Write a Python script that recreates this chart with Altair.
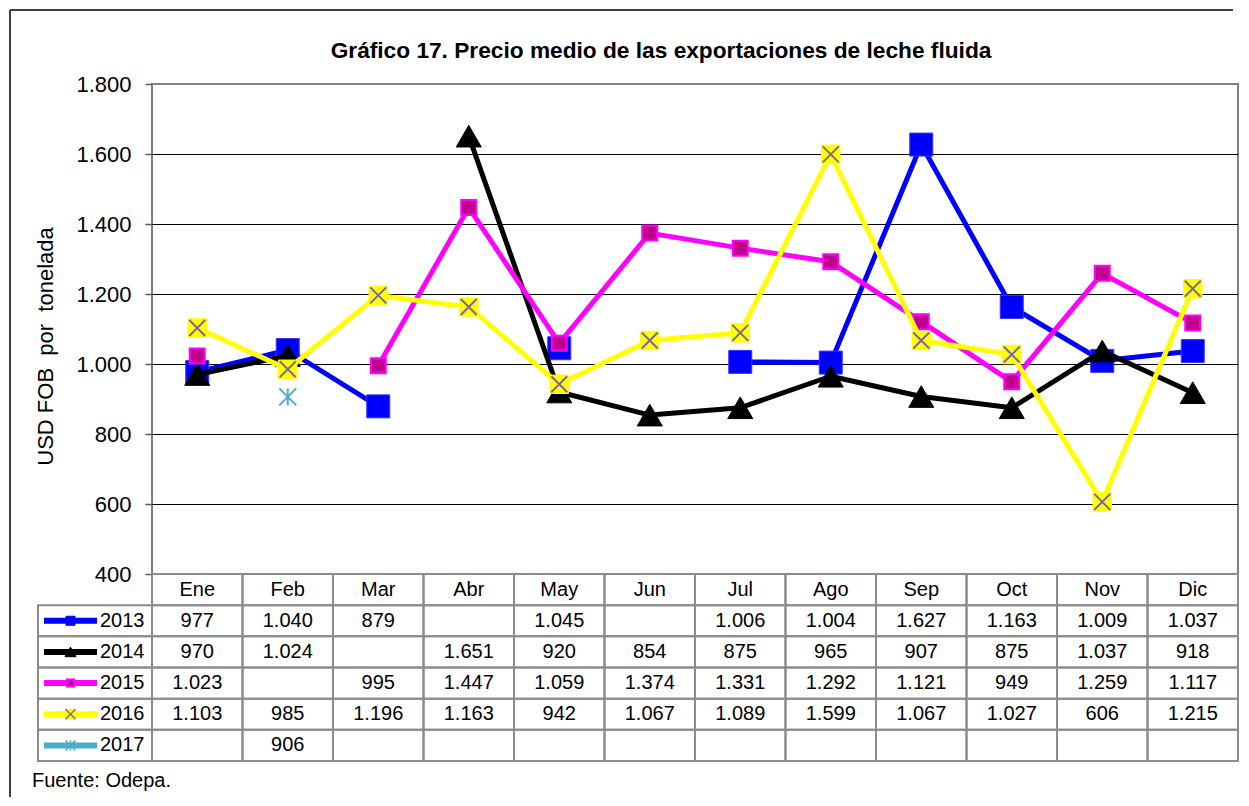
import altair as alt
import pandas as pd

# ---------------- data ----------------
months = ["Ene", "Feb", "Mar", "Abr", "May", "Jun", "Jul", "Ago", "Sep", "Oct", "Nov", "Dic"]
series = ["2013", "2014", "2015", "2016", "2017"]
v2013 = [977, 1040, 879, None, 1045, None, 1006, 1004, 1627, 1163, 1009, 1037]
v2014 = [970, 1024, None, 1651, 920, 854, 875, 965, 907, 875, 1037, 918]
v2015 = [1023, None, 995, 1447, 1059, 1374, 1331, 1292, 1121, 949, 1259, 1117]
v2016 = [1103, 985, 1196, 1163, 942, 1067, 1089, 1599, 1067, 1027, 606, 1215]
v2017 = [None, 906, None, None, None, None, None, None, None, None, None, None]
y_ticks = [400, 600, 800, 1000, 1200, 1400, 1600, 1800]
grid_values = [600, 800, 1000, 1200, 1400, 1600]
title_text = "Gráfico 17. Precio medio de las exportaciones de leche fluida"
y_title = "USD FOB\u00a0 por\u00a0 tonelada"
source_text = "Fuente: Odepa."

values = dict(zip(series, [v2013, v2014, v2015, v2016, v2017]))

rows = []
for s in series:
    seg, prev = 0, False
    for i, (m, v) in enumerate(zip(months, values[s])):
        if v is None:
            prev = False
            continue
        if not prev:
            seg += 1
        prev = True
        rows.append({"series": s, "month": m, "mi": i, "value": v, "seg": f"{s}-{seg}"})
df = pd.DataFrame(rows)

row_domain = ["hdr"] + series
cells_df = pd.DataFrame([{"row": r, "month": m} for r in row_domain for m in months])
header_df = pd.DataFrame({"row": ["hdr"] * len(months), "month": months})
legend_df = pd.DataFrame({"row": series})
dummy = pd.DataFrame({"a": [0]})

# ---------------- styles ----------------
FONT = "Liberation Sans"
W, H = 1086, 490       # main plot area
TH = 187               # table height (header + 5 rows)
LW = 114               # legend column width
GRAY = "#8C8C8C"
X_PATH = "M-1,-1L1,1M-1,1L1,-1"
STAR_PATH = "M-1,-1L1,1M-1,1L1,-1M0,-1L0,1"

styles = {
    "2013": {"line": "#0000FF",
             "marks": [dict(shape="square", size=529, filled=True, fill="#0000FF", stroke="#3535FF", strokeWidth=1)],
             "legend": [dict(shape="square", size=81, filled=True, fill="#0000FF", stroke="#0000FF", strokeWidth=1)]},
    "2014": {"line": "#000000",
             "marks": [dict(shape="triangle-up", size=625, filled=True, fill="#000000", stroke="#000000", strokeWidth=1)],
             "legend": [dict(shape="triangle-up", size=121, filled=True, fill="#000000", stroke="#000000", strokeWidth=1)]},
    "2015": {"line": "#FF00FF",
             "marks": [dict(shape="square", size=225, filled=True, fill="#C0008C", stroke="#FF00FF", strokeWidth=2)],
             "legend": [dict(shape="square", size=49, filled=True, fill="#C0008C", stroke="#FF00FF", strokeWidth=2)]},
    "2016": {"line": "#FFFF00",
             "marks": [dict(shape="square", size=340, filled=True, fill="#FFFF00", stroke="#FFFF00", strokeWidth=1),
                       dict(shape=X_PATH, size=256, filled=False, stroke="#7B68A0", strokeWidth=2)],
             "legend": [dict(shape="square", size=100, filled=True, fill="#FFFF00", stroke="#FFFF00", strokeWidth=1),
                        dict(shape=X_PATH, size=100, filled=False, stroke="#7B68A0", strokeWidth=1.5)]},
    "2017": {"line": "#4BACC6",
             "marks": [dict(shape=STAR_PATH, size=289, filled=False, stroke="#4BACC6", strokeWidth=2)],
             "legend": [dict(shape=STAR_PATH, size=100, filled=False, stroke="#4BACC6", strokeWidth=1.5)]},
}

label_expr = "replace(format(datum.value, ','), ',', '.')"

# ---------------- main chart ----------------
yscale = alt.Scale(domain=[400, 1800], nice=False, zero=False)
yaxis = alt.Axis(values=y_ticks, labelExpr=label_expr, title=y_title, grid=False, domain=False,
                 ticks=True, tickSize=7, tickColor="#595959", tickWidth=1.5, labelPadding=14,
                 labelFont=FONT, labelFontSize=22, labelColor="black",
                 titleFont=FONT, titleFontSize=22, titleFontWeight="normal", titleColor="black",
                 titleAngle=270, titleX=-107, titleY=262, titleAlign="center", titleBaseline="middle")


def ye(field):
    return alt.Y(field, scale=yscale, axis=yaxis)


xenc = alt.X("month:N", scale=alt.Scale(type="point", domain=months, padding=0.5), axis=None)

layers = [alt.Chart(pd.DataFrame({"value": grid_values})).mark_rule(color="black", strokeWidth=1, yOffset=0.5)
          .encode(y=ye("value:Q"))]
base = alt.Chart(df)
for s in series:
    st = styles[s]
    sub = base.transform_filter(alt.datum.series == s)
    layers.append(sub.mark_line(color=st["line"], strokeWidth=5, strokeJoin="round")
                  .encode(x=xenc, y=ye("value:Q"), detail="seg:N", order=alt.Order("mi:Q")))
    for mk in st["marks"]:
        layers.append(sub.mark_point(opacity=1, fillOpacity=1, strokeOpacity=1, **mk)
                      .encode(x=xenc, y=ye("value:Q")))

layers.append(alt.Chart(pd.DataFrame({"t": [title_text]}))
              .mark_text(font=FONT, fontSize=22.7, fontWeight="bold", color="black",
                         align="center", baseline="middle")
              .encode(text="t:N", x=alt.value(509), y=alt.value(-33)))

main = alt.layer(*layers).properties(width=W, height=H,
                                     view=alt.ViewBackground(stroke="#808080", strokeWidth=2))

# ---------------- spacer with outer frame lines ----------------
spacer = alt.layer(
    alt.Chart(dummy).mark_rule(color="#404040", strokeWidth=2)
    .encode(x=alt.value(-28), y=alt.value(-74), y2=alt.value(713)),
    alt.Chart(dummy).mark_rule(color="#404040", strokeWidth=2)
    .encode(x=alt.value(-28), x2=alt.value(1195), y=alt.value(-74)),
).properties(width=LW, height=H)

# ---------------- data table ----------------
yrow_scale = alt.Scale(domain=row_domain, paddingInner=0, paddingOuter=0)
xcol_scale = alt.Scale(domain=months, paddingInner=0, paddingOuter=0)

cells = alt.layer(
    alt.Chart(cells_df).mark_rect(fill="white", fillOpacity=0, stroke=GRAY, strokeWidth=2)
    .encode(x=alt.X("month:N", scale=xcol_scale, axis=None),
            y=alt.Y("row:N", scale=yrow_scale, axis=None)),
    alt.Chart(header_df).mark_text(font=FONT, fontSize=20, color="black", baseline="middle")
    .encode(x=alt.X("month:N", bandPosition=0.5, scale=xcol_scale, axis=None),
            y=alt.Y("row:N", bandPosition=0.5, scale=yrow_scale, axis=None),
            text="month:N"),
    alt.Chart(df).transform_calculate(label=label_expr)
    .mark_text(font=FONT, fontSize=20, color="black", baseline="middle")
    .encode(x=alt.X("month:N", bandPosition=0.5, scale=xcol_scale, axis=None),
            y=alt.Y("series:N", bandPosition=0.5, scale=yrow_scale, axis=None),
            text="label:N"),
).properties(width=W, height=TH)

leg_layers = [
    alt.Chart(legend_df).mark_rect(fill="white", fillOpacity=0, stroke=GRAY, strokeWidth=2)
    .encode(x=alt.value(0), x2=alt.value(LW), y=alt.Y("row:N", scale=yrow_scale, axis=None)),
]
for s in series:
    st = styles[s]
    sub = alt.Chart(legend_df).transform_filter(alt.datum.row == s)
    yy = alt.Y("row:N", bandPosition=0.5, scale=yrow_scale, axis=None)
    leg_layers.append(sub.mark_rule(color=st["line"], strokeWidth=6)
                      .encode(x=alt.value(6), x2=alt.value(59), y=yy))
    for mk in st["legend"]:
        leg_layers.append(sub.mark_point(opacity=1, fillOpacity=1, strokeOpacity=1, **mk)
                          .encode(x=alt.value(32.5), y=yy))
leg_layers.append(alt.Chart(legend_df).mark_text(font=FONT, fontSize=20, color="black",
                                                 align="left", baseline="middle")
                  .encode(x=alt.value(62), y=alt.Y("row:N", bandPosition=0.5, scale=yrow_scale, axis=None),
                          text="row:N"))
leg_layers.append(alt.Chart(pd.DataFrame({"t": [source_text]}))
                  .mark_text(font=FONT, fontSize=20, color="black", align="left", baseline="middle")
                  .encode(text="t:N", x=alt.value(-6), y=alt.value(207)))
legend = alt.layer(*leg_layers).properties(width=LW, height=TH)

chart = (alt.concat(spacer, main, legend, cells, columns=2, spacing=0, bounds="flush", align="each")
         .properties(padding=0, background="white")
         .configure_view(stroke="transparent"))

chart.save("out.html", embed_options={"renderer": "svg", "actions": False})
